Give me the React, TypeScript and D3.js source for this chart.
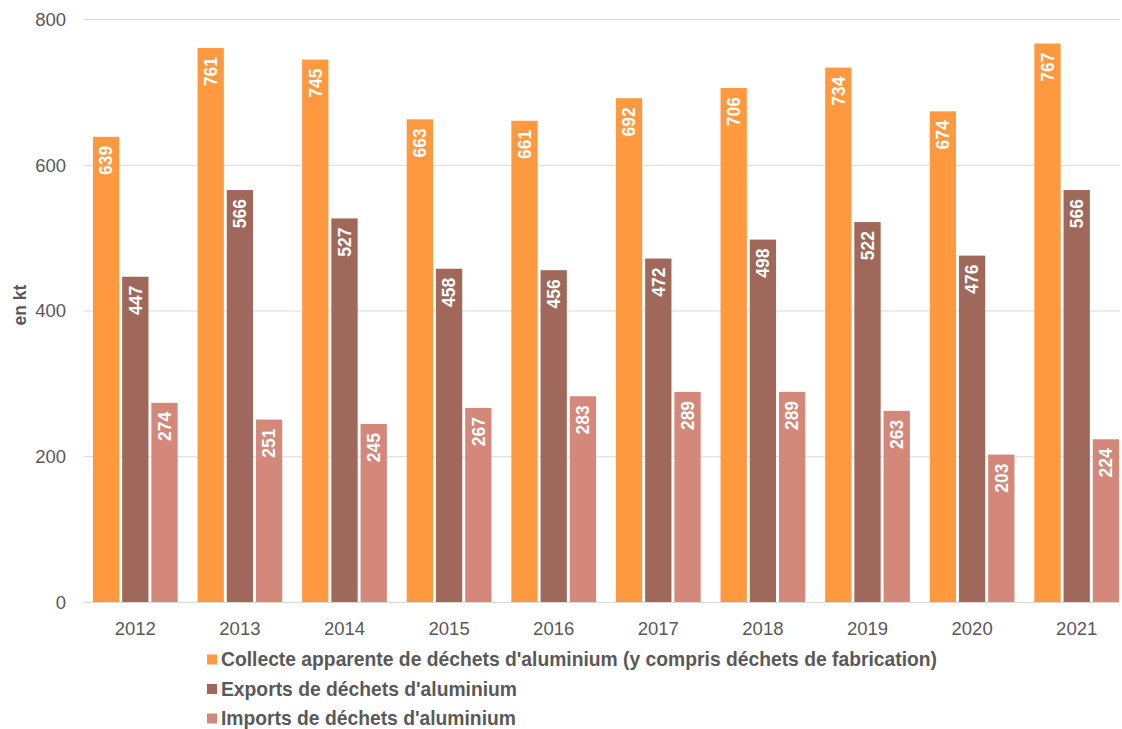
import React, { useEffect, useRef } from 'react';
import * as d3 from 'd3';

const years = ['2012', '2013', '2014', '2015', '2016', '2017', '2018', '2019', '2020', '2021'];
const collecte = [639, 761, 745, 663, 661, 692, 706, 734, 674, 767];
const exportsVals = [447, 566, 527, 458, 456, 472, 498, 522, 476, 566];
const importsVals = [274, 251, 245, 267, 283, 289, 289, 263, 203, 224];
const seriesNames = [
  "Collecte apparente de déchets d'aluminium (y compris déchets de fabrication)",
  "Exports de déchets d'aluminium",
  "Imports de déchets d'aluminium",
];
const colors = ['#FF993F', '#A0685A', '#D3887A'];
const yTicks = [0, 200, 400, 600, 800];

const App: React.FC = () => {
  const svgRef = useRef<SVGSVGElement>(null);

  useEffect(() => {
    if (!svgRef.current) return;
    const font = '"Liberation Sans", Arial, sans-serif';
    const svg = d3.select(svgRef.current).html('');

    const x = d3.scaleBand<string>().domain(years).range([83, 1129]).paddingInner(0.19).paddingOuter(0.095);
    const inner = d3.scaleBand<number>().domain([0, 1, 2]).range([0, x.bandwidth()]).paddingInner(0.1);
    const y = d3.scaleLinear().domain([0, 800]).range([602.5, 19.5]);

    // gridlines
    svg.append('g')
      .selectAll('line')
      .data(yTicks)
      .join('line')
      .attr('x1', 83)
      .attr('x2', 1120)
      .attr('y1', d => y(d))
      .attr('y2', d => y(d))
      .attr('stroke', '#D9D9D9')
      .attr('stroke-width', 1);

    // y tick labels
    svg.append('g')
      .selectAll('text')
      .data(yTicks)
      .join('text')
      .attr('x', 66)
      .attr('y', d => y(d))
      .attr('dy', '0.35em')
      .attr('text-anchor', 'end')
      .attr('font-family', font)
      .attr('font-size', 18.5)
      .attr('fill', '#595959')
      .text(d => d);

    svg.append('text')
      .attr('transform', 'translate(26,305) rotate(-90)')
      .attr('text-anchor', 'middle')
      .attr('font-family', font)
      .attr('font-size', 17.5)
      .attr('font-weight', 'bold')
      .attr('fill', '#595959')
      .text('en kt');

    const series = [collecte, exportsVals, importsVals];
    series.forEach((vals, si) => {
      const g = svg.append('g');
      g.selectAll('rect')
        .data(vals)
        .join('rect')
        .attr('x', (_, i) => (x(years[i]) as number) + (inner(si) as number))
        .attr('width', inner.bandwidth())
        .attr('y', d => y(d))
        .attr('height', d => y(0) - y(d))
        .attr('fill', colors[si]);

      g.selectAll('text')
        .data(vals)
        .join('text')
        .attr('transform', (d, i) => {
          const cx = (x(years[i]) as number) + (inner(si) as number) + inner.bandwidth() / 2;
          return `translate(${cx},${y(d) + 9}) rotate(-90)`;
        })
        .attr('dy', '0.36em')
        .attr('text-anchor', 'end')
        .attr('font-family', font)
        .attr('font-size', 17.5)
        .attr('font-weight', 'bold')
        .attr('fill', '#fff')
        .text(d => d);
    });

    // x axis line
    svg.append('line')
      .attr('x1', 83)
      .attr('x2', 1120)
      .attr('y1', y(0))
      .attr('y2', y(0))
      .attr('stroke', '#D9D9D9');

    svg.append('g')
      .selectAll('text')
      .data(years)
      .join('text')
      .attr('x', d => (x(d) as number) + x.bandwidth() / 2)
      .attr('y', 635)
      .attr('text-anchor', 'middle')
      .attr('font-family', font)
      .attr('font-size', 18.5)
      .attr('fill', '#595959')
      .text(d => d);

    // legend
    const legend = svg.append('g');
    seriesNames.forEach((name, i) => {
      const cy = 659.5 + i * 29.5;
      legend.append('rect')
        .attr('x', 207)
        .attr('y', cy - 5)
        .attr('width', 10)
        .attr('height', 10)
        .attr('fill', colors[i]);
      legend.append('text')
        .attr('x', 221)
        .attr('y', cy)
        .attr('dy', '0.35em')
        .attr('font-family', font)
        .attr('font-size', 19.3)
        .attr('font-weight', 'bold')
        .attr('fill', '#595959')
        .text(name);
    });
  }, []);

  return (
    <svg ref={svgRef} width={1122} height={729} style={{ position: 'absolute', left: 0, top: 0 }}></svg>
  );
};

export default App;
